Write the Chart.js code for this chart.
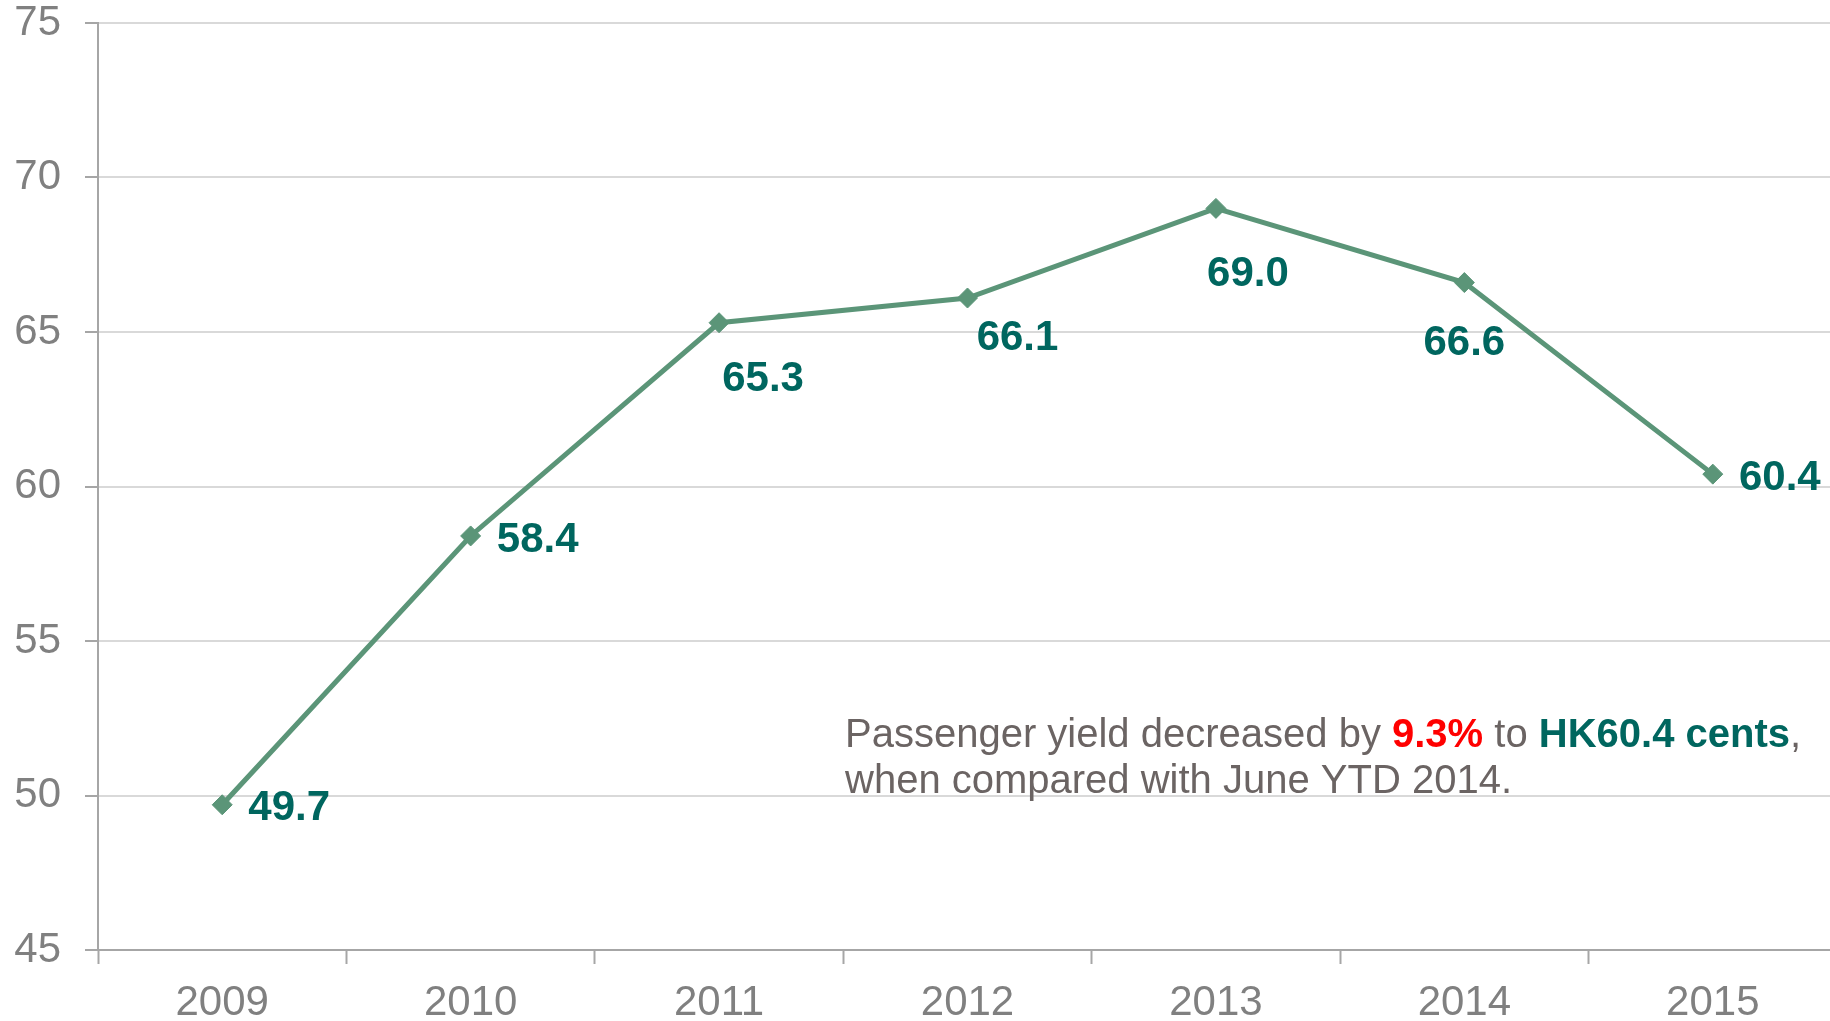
<!DOCTYPE html>
<html>
<head>
<meta charset="utf-8">
<title>Passenger yield</title>
<script src="https://cdn.jsdelivr.net/npm/chart.js@4.4.1/dist/chart.umd.min.js"></script>
<style>
    html, body { margin: 0; padding: 0; background: #ffffff; overflow: hidden; }
    #wrap { width: 1848px; height: 1021px; }
</style>
</head>
<body>
<div id="wrap">
    <canvas id="chYield" width="1848" height="1021"></canvas>
</div>
<script>
// data
var years = ['2009', '2010', '2011', '2012', '2013', '2014', '2015'];
var yieldValues = [49.7, 58.4, 65.3, 66.1, 69.0, 66.6, 60.4];
var yMin = 45;
var yMax = 75;
var yStep = 5;

// where each value label sits, relative to its point
var labelOffsets = [[67, 4], [67, 4], [44, 57], [50, 40], [32, 66], [0, 61], [67, 4]];

// colors
var lineColor = '#5b9578';
var labelColor = '#00665f';
var axisColor = '#a6a6a6';
var gridColor = '#d9d9d9';
var tickTextColor = '#808080';
var noteColor = '#6b6463';
var fontName = '"Liberation Sans", Arial, sans-serif';

// value labels next to the points
var valueLabels = {
    id: 'valueLabels',
    afterDatasetsDraw: function (chart) {
        var ctx = chart.ctx;
        var meta = chart.getDatasetMeta(0);
        ctx.save();
        ctx.font = 'bold 42px ' + fontName;
        ctx.fillStyle = labelColor;
        ctx.textAlign = 'center';
        ctx.textBaseline = 'middle';
        meta.data.forEach(function (pt, i) {
            var off = labelOffsets[i];
            ctx.fillText(yieldValues[i].toFixed(1), pt.x + off[0], pt.y + off[1]);
        });
        ctx.restore();
    }
};

// note text with coloured parts
var note = {
    id: 'note',
    afterDraw: function (chart) {
        var ctx = chart.ctx;
        var parts = [
            { t: 'Passenger yield decreased by ', c: noteColor, b: false },
            { t: '9.3%', c: '#ff0000', b: true },
            { t: ' to ', c: noteColor, b: false },
            { t: 'HK60.4 cents', c: labelColor, b: true },
            { t: ',', c: noteColor, b: false }
        ];
        var x = 845;
        ctx.save();
        ctx.textAlign = 'left';
        ctx.textBaseline = 'alphabetic';
        parts.forEach(function (p) {
            ctx.font = (p.b ? 'bold ' : '') + '40px ' + fontName;
            ctx.fillStyle = p.c;
            ctx.fillText(p.t, x, 747);
            x += ctx.measureText(p.t).width;
        });
        ctx.font = '40px ' + fontName;
        ctx.fillStyle = noteColor;
        ctx.fillText('when compared with June YTD 2014.', 845, 793);
        ctx.restore();
    }
};

var chYield = document.getElementById('chYield');
if (chYield) {
    new Chart(chYield, {
        type: 'line',
        data: {
            labels: years,
            datasets: [
                {
                    data: yieldValues,
                    borderColor: lineColor,
                    backgroundColor: lineColor,
                    borderWidth: 5,
                    pointStyle: 'rectRot',
                    pointRadius: 10,
                    pointBorderWidth: 1,
                    pointBackgroundColor: lineColor,
                    pointBorderColor: lineColor,
                    tension: 0,
                    fill: false
                }
            ]
        },
        options: {
            responsive: false,
            animation: false,
            devicePixelRatio: 1,
            layout: { padding: { top: 0, right: 2, bottom: 0, left: 0 } },
            plugins: {
                legend: { display: false },
                tooltip: { enabled: false }
            },
            scales: {
                x: {
                    offset: true,
                    grid: {
                        display: true,
                        drawOnChartArea: false,
                        drawTicks: true,
                        tickLength: 14,
                        tickColor: axisColor,
                        tickWidth: 2,
                        offset: true
                    },
                    border: { display: true, color: axisColor, width: 2 },
                    ticks: {
                        color: tickTextColor,
                        font: { family: fontName, size: 42 },
                        padding: 14,
                        maxRotation: 0
                    },
                    afterFit: function (scale) { scale.height = 71; }
                },
                y: {
                    min: yMin,
                    max: yMax,
                    grid: {
                        color: gridColor,
                        lineWidth: 2,
                        tickLength: 13,
                        tickColor: axisColor,
                        tickWidth: 2
                    },
                    border: { display: true, color: axisColor, width: 2 },
                    ticks: {
                        stepSize: yStep,
                        color: tickTextColor,
                        font: { family: fontName, size: 42, lineHeight: 1.1 },
                        padding: 24
                    },
                    afterFit: function (scale) {
                        scale.width = 98;
                        // top gridline sits 23px below the edge
                        scale.paddingTop = 23;
                        scale.paddingBottom = 0;
                    }
                }
            }
        },
        plugins: [valueLabels, note]
    });
}
</script>
</body>
</html>
